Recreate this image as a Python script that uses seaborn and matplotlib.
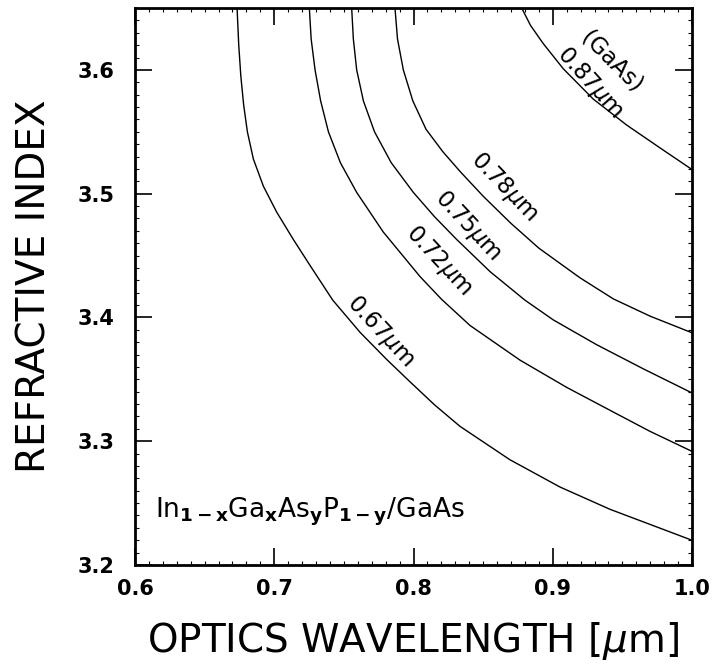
import numpy as np
import pandas as pd
import matplotlib
matplotlib.use("Agg")
import matplotlib.pyplot as plt
import seaborn as sns
from matplotlib.ticker import MultipleLocator

# ---- data ----
wl_067 = [0.6733, 0.6745, 0.6760, 0.6780, 0.6807, 0.6850, 0.6922, 0.7018, 0.7137, 0.7257, 0.7420,
          0.7616, 0.7808, 0.7975, 0.8150, 0.8334, 0.8693, 0.9052, 0.9411, 1.0000]
n_067 = [3.650, 3.620, 3.595, 3.572, 3.550, 3.528, 3.506, 3.485, 3.463, 3.442, 3.414,
         3.388, 3.366, 3.348, 3.3295, 3.312, 3.285, 3.263, 3.245, 3.220]

wl_072 = [0.7252, 0.7265, 0.7293, 0.7333, 0.7389, 0.7475, 0.7592, 0.7783, 0.8047, 0.8202,
          0.8406, 0.8765, 0.9100, 0.9411, 0.9698, 1.0000]
n_072 = [3.650, 3.625, 3.600, 3.575, 3.550, 3.525, 3.501, 3.469, 3.433, 3.4146,
         3.3935, 3.3655, 3.3435, 3.325, 3.308, 3.2918]

wl_075 = [0.7556, 0.7568, 0.7592, 0.7640, 0.7720, 0.7840, 0.7999, 0.8150, 0.8310, 0.8550,
          0.8800, 0.9004, 0.9315, 0.9650, 1.0000]
n_075 = [3.650, 3.625, 3.600, 3.575, 3.550, 3.525, 3.501, 3.4815, 3.463, 3.437,
         3.414, 3.398, 3.378, 3.3585, 3.339]

wl_078 = [0.7867, 0.7885, 0.7927, 0.7995, 0.8090, 0.8210, 0.8334, 0.8500, 0.8700, 0.8900,
          0.9196, 0.9435, 0.9700, 1.0000]
n_078 = [3.650, 3.625, 3.600, 3.575, 3.552, 3.534, 3.518, 3.498, 3.476, 3.456,
         3.432, 3.415, 3.401, 3.3876]

wl_087 = [0.8777, 0.8840, 0.8930, 0.9075, 0.9290, 0.9530, 0.9770, 1.0000]
n_087 = [3.650, 3.636, 3.6215, 3.601, 3.5765, 3.5555, 3.537, 3.5195]

curve_names = ["0.67", "0.72", "0.75", "0.78", "0.87"]
curve_wl = [wl_067, wl_072, wl_075, wl_078, wl_087]
curve_n = [n_067, n_072, n_075, n_078, n_087]

label_texts = ["0.67$\\mu$m", "0.72$\\mu$m", "0.75$\\mu$m", "0.78$\\mu$m", "0.87$\\mu$m"]
label_x = [0.7760, 0.8184, 0.8388, 0.8651, 0.9268]
label_y = [3.3885, 3.4459, 3.4743, 3.5053, 3.590]
gaas_x, gaas_y = 0.9423, 3.6062

x_ticks = [0.6, 0.7, 0.8, 0.9, 1.0]
y_ticks = [3.2, 3.3, 3.4, 3.5, 3.6]

# ---- build long-form table ----
rows = []
for name, xs, ys in zip(curve_names, curve_wl, curve_n):
    for i, (a, b) in enumerate(zip(xs, ys)):
        rows.append({"curve": name, "order": i, "wl": a, "n": b})
df = pd.DataFrame(rows)

sns.set_theme(style="ticks")
plt.rcParams["font.family"] = ["DejaVu Sans"]
plt.rcParams["mathtext.fontset"] = "dejavusans"

fig = plt.figure(figsize=(7.14, 6.69), dpi=100)
ax = fig.add_axes([135 / 714, 104 / 669, 557 / 714, 557 / 669])

sns.lineplot(data=df, x="wl", y="n", hue="curve", units="curve", estimator=None,
             sort=False, palette=["black"] * 5, linewidth=1.0, legend=False, ax=ax)

ax.set_xlim(0.6, 1.0)
ax.set_ylim(3.2, 3.65)
ax.set_xticks(x_ticks)
ax.set_yticks(y_ticks)
ax.set_xticklabels([f"{v:.1f}" for v in x_ticks])
ax.set_yticklabels([f"{v:.1f}" for v in y_ticks])
ax.xaxis.set_minor_locator(MultipleLocator(0.01))
ax.yaxis.set_minor_locator(MultipleLocator(0.01))

for s in ax.spines.values():
    s.set_visible(True)
    s.set_linewidth(2.0)
    s.set_color("black")

ax.tick_params(which="major", direction="in", length=12, width=1.2, top=True, right=True,
               color="black", labelsize=15, labelcolor="black")
ax.tick_params(which="minor", direction="in", length=3, width=0.8, top=True, right=True, color="black")
ax.tick_params(axis="x", which="major", pad=10)
ax.tick_params(axis="y", which="major", pad=15)
for lab in ax.get_xticklabels() + ax.get_yticklabels():
    lab.set_fontweight("bold")

ax.set_xlabel("OPTICS WAVELENGTH [$\\mu$m]", fontsize=28, color="black")
ax.set_ylabel("REFRACTIVE INDEX", fontsize=28, color="black")
ax.xaxis.set_label_coords(0.5, -0.098)
ax.yaxis.set_label_coords(-0.147, 0.5)

rotations = [-47, -47, -47, -46, -48]
for t, x, y, r in zip(label_texts, label_x, label_y, rotations):
    ax.text(x, y, t, fontsize=16.5, rotation=r, rotation_mode="anchor",
            ha="center", va="center", color="black")
ax.text(gaas_x, gaas_y, "(GaAs)", fontsize=16.5, rotation=-45, rotation_mode="anchor",
        ha="center", va="center", color="black")

ax.text(0.6144, 3.238,
        "In$_{\\mathbf{1-x}}$Ga$_{\\mathbf{x}}$As$_{\\mathbf{y}}$P$_{\\mathbf{1-y}}$/GaAs",
        fontsize=19, ha="left", va="baseline", color="black")

fig.savefig("out.png", dpi=100, facecolor="white")
